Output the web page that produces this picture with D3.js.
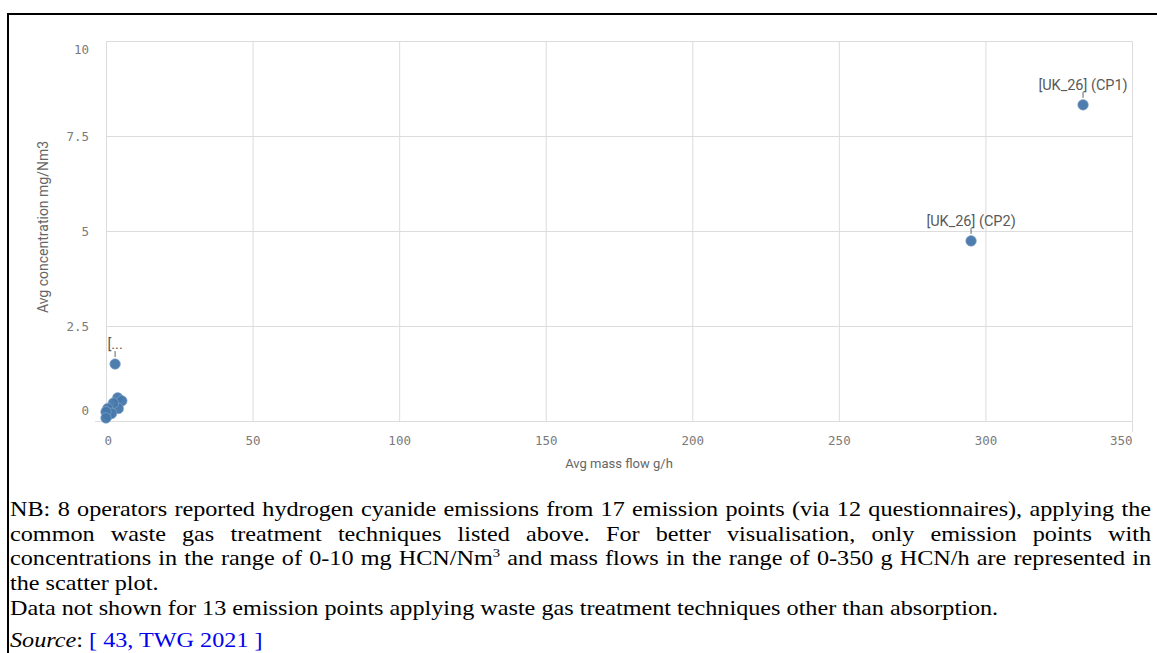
<!DOCTYPE html>
<html>
<head>
<meta charset="utf-8">
<script src="https://cdn.jsdelivr.net/npm/d3@7"></script>
<style>
  body { margin: 0; background: #fff; }
  #wrap { position: relative; width: 1157px; height: 653px; overflow: hidden; }
  svg { position: absolute; left: 0; top: 0; }
  #note {
    position: absolute; left: 10px; top: 497px;
    transform: scaleX(1.125); transform-origin: 0 0;
    font-family: "Liberation Serif", "Times New Roman", serif;
    font-size: 21.5px; line-height: 24.7px; color: #000;
  }
  #note div { white-space: nowrap; }
  #note span.line { display: inline-block; }
  #note sup { font-size: 13px; line-height: 0; vertical-align: 8px; }
  #note .ref { color: #0000ee; }
  #note .src { margin-top: 7px; }
</style>
</head>
<body>
<div id="wrap">
  <svg id="chart" width="1157" height="653"></svg>
  <div id="note">
    <div><span class="line j">NB: 8 operators reported hydrogen cyanide emissions from 17 emission points (via 12 questionnaires), applying the</span></div>
    <div><span class="line j">common waste gas treatment techniques listed above. For better visualisation, only emission points with</span></div>
    <div><span class="line j">concentrations in the range of 0-10 mg HCN/Nm<sup>3</sup> and mass flows in the range of 0-350 g HCN/h are represented in</span></div>
    <div>the scatter plot.</div>
    <div>Data not shown for 13 emission points applying waste gas treatment techniques other than absorption.</div>
    <div class="src"><i>Source</i>: <span class="ref">[ 43, TWG 2021 ]</span></div>
  </div>
</div>
<script>
// avg mass flow (g/h) and avg concentration (mg/Nm3) per emission point
const massFlow      = [333.3, 295.1, 3.1, 4.0, 5.4, 4.2, 2.5, 0.6, 0.8, 1.9, 0.0, 0.0];
const concentration = [8.32, 4.74, 1.5, 0.61, 0.53, 0.33, 0.47, 0.33, 0.16, 0.2, 0.24, 0.08];
const pointLabels   = ['[UK_26] (CP1)', '[UK_26] (CP2)', '[...', '', '', '', '', '', '', '', '', ''];

const xTicks = [0, 50, 100, 150, 200, 250, 300, 350];
const yTicks = [0, 2.5, 5, 7.5, 10];

// justify the first three footnote lines to the full text width
const noteScale = 1.125, noteWidth = 1141;
d3.selectAll('#note span.j').each(function () {
    const el = d3.select(this);
    const natural = this.getBoundingClientRect().width / noteScale;
    const gaps = (this.textContent.match(/ /g) || []).length;
    el.style('word-spacing', ((noteWidth / noteScale - natural) / gaps) + 'px');
});

const svg = d3.select('#chart');

// page frame
svg.append('line').attr('x1', 7).attr('x2', 1157).attr('y1', 14).attr('y2', 14)
    .attr('stroke', '#000').attr('stroke-width', 2);
svg.append('line').attr('x1', 8).attr('x2', 8).attr('y1', 13).attr('y2', 653)
    .attr('stroke', '#000').attr('stroke-width', 2);

const plotLeft = 106, plotRight = 1132, plotTop = 41, plotBottom = 421;

const x = d3.scaleLinear().domain([0, 350]).range([plotLeft, plotRight]);
const y = d3.scaleLinear().domain([0, 10]).range([plotBottom, plotTop]);

const gridColor = '#dcdcdc';
const tickFont = '"DejaVu Sans Mono", monospace';
const labelFont = 'Roboto, "Open Sans", sans-serif';

// vertical grid + x labels
const xAxis = svg.append('g')
    .attr('transform', `translate(0, ${plotTop})`)
    .call(d3.axisBottom(x).tickValues(xTicks).tickSize(plotBottom - plotTop).tickFormat(d3.format('d')));
xAxis.select('.domain').remove();
xAxis.selectAll('.tick line').attr('stroke', gridColor);
xAxis.selectAll('.tick text')
    .attr('y', plotBottom - plotTop + 15)
    .attr('fill', '#7a7a7a')
    .style('font-family', tickFont)
    .style('font-size', '12.5px')
    .attr('text-anchor', d => d === 0 ? 'start' : d === 350 ? 'end' : 'middle')
    .attr('dx', d => d === 0 ? -2 : 0);
// axis end tick at 350 runs past the baseline
xAxis.selectAll('.tick').filter(d => d === 350).select('line').attr('y2', plotBottom - plotTop + 11);

// horizontal grid + y labels
const yAxis = svg.append('g')
    .attr('transform', `translate(${plotLeft}, 0)`)
    .call(d3.axisLeft(y).tickValues(yTicks).tickSize(0).tickFormat(d => d));
yAxis.select('.domain').remove();
yAxis.selectAll('.tick line')
    .attr('x1', d => d === 0 ? -11 : 0)
    .attr('x2', plotRight - plotLeft)
    .attr('stroke', gridColor);
yAxis.selectAll('.tick text')
    .attr('x', -17)
    .attr('dy', d => d === 10 ? '1.0em' : d === 0 ? '-0.5em' : '0.32em')
    .attr('fill', '#7a7a7a')
    .style('font-family', tickFont)
    .style('font-size', '12.5px');

// axis titles
svg.append('text')
    .attr('x', (plotLeft + plotRight) / 2).attr('y', 468)
    .attr('text-anchor', 'middle')
    .attr('fill', '#666')
    .style('font-family', labelFont)
    .style('font-size', '13px')
    .text('Avg mass flow g/h');

svg.append('text')
    .attr('transform', `translate(48, ${(plotTop + plotBottom) / 2 - 4}) rotate(-90)`)
    .attr('text-anchor', 'middle')
    .attr('fill', '#666')
    .style('font-family', labelFont)
    .style('font-size', '14px')
    .text('Avg concentration mg/Nm3');

// points
const pts = massFlow.map((m, i) => ({ m, c: concentration[i], label: pointLabels[i] }));

svg.append('g')
    .selectAll('circle')
    .data(pts)
    .join('circle')
    .attr('cx', d => x(d.m))
    .attr('cy', d => y(d.c))
    .attr('r', 5.3)
    .attr('fill', '#4477aa')
    .attr('stroke', '#8aa8cc')
    .attr('stroke-width', 0.6)
    .attr('fill-opacity', 0.95);

// labels with leader ticks
const labeled = pts.filter(d => d.label);
const lab = svg.append('g').selectAll('g').data(labeled).join('g')
    .attr('transform', d => `translate(${x(d.m)}, ${y(d.c)})`);
lab.append('line')
    .attr('x1', 0).attr('x2', 0).attr('y1', -13).attr('y2', -7)
    .attr('stroke', '#666').attr('stroke-width', 1);
lab.append('text')
    .attr('y', -15)
    .attr('text-anchor', 'middle')
    .attr('fill', '#595959')
    .style('font-family', labelFont)
    .style('font-size', '14.5px')
    .text(d => d.label);
</script>
</body>
</html>
